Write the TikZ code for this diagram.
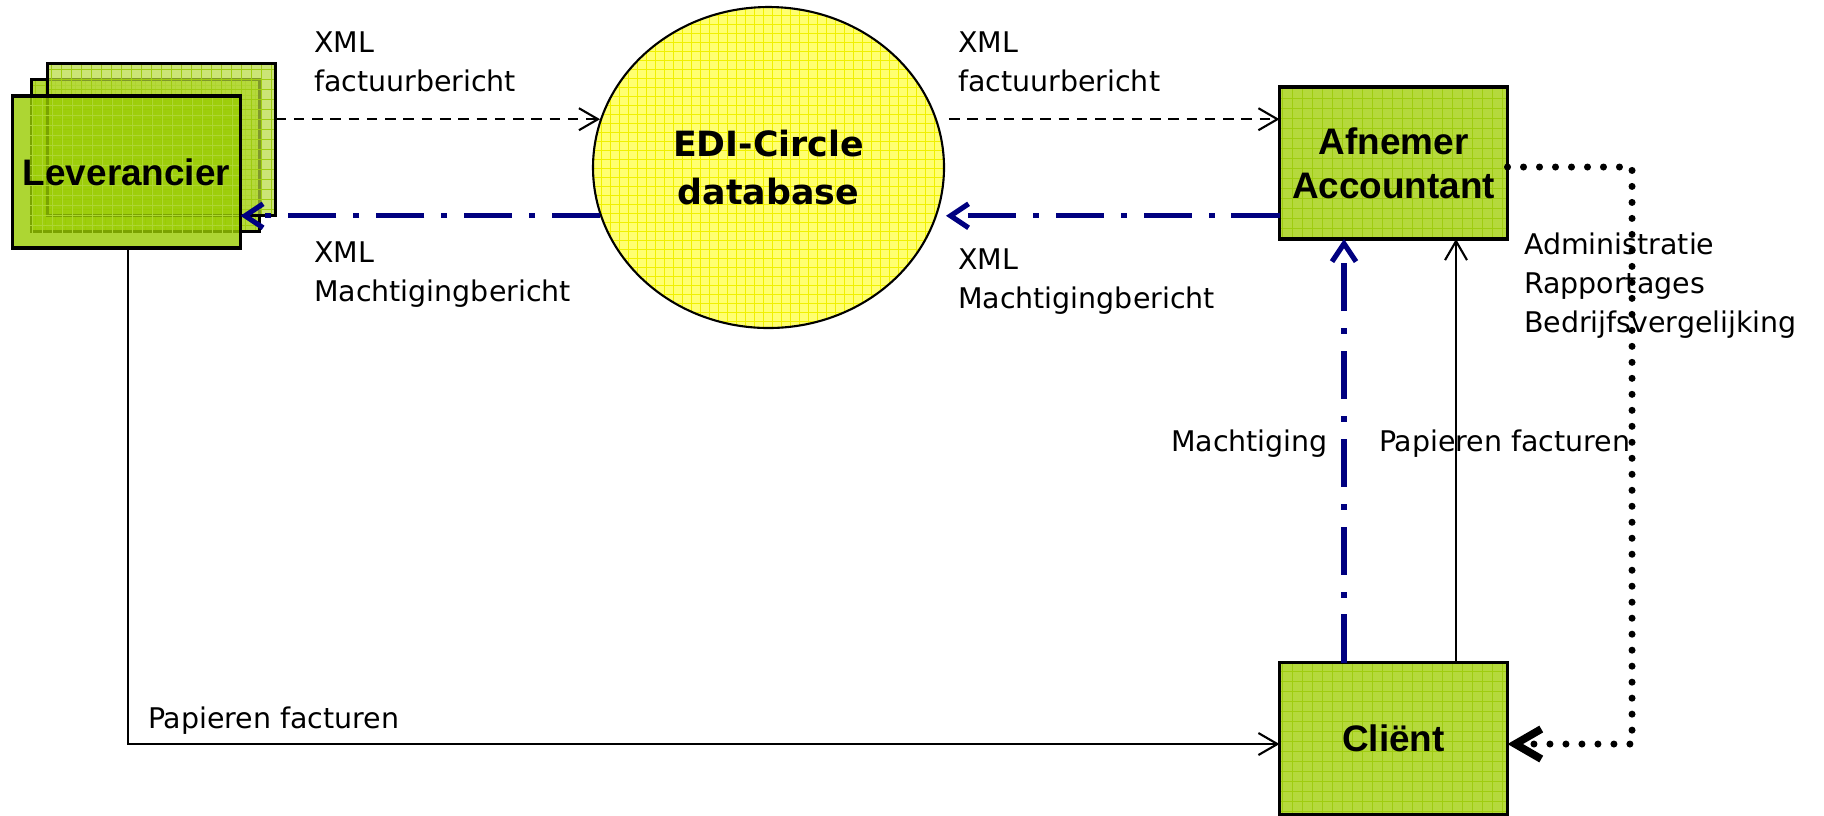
\documentclass[tikz,border=0pt]{standalone}
\usepackage{fontspec}
\setmainfont{DejaVu Sans}
\newfontfamily\arialfont{Liberation Sans}
\usepackage{tikz}
\usetikzlibrary{arrows.meta,calc,positioning,shapes.geometric}
\usepackage{xcolor}
\definecolor{boxgreen}{HTML}{B5D93C}
\definecolor{gridgreen}{HTML}{9FCC10}
\definecolor{levgreen}{HTML}{99CC00}
\definecolor{edifill}{HTML}{FFFF70}
\definecolor{edigrid}{HTML}{F0F000}
\definecolor{mandblue}{HTML}{000080}

\begin{document}
\begin{tikzpicture}[x=0.1mm,y=-0.1mm,
  party/.style={draw,line width=0.9pt,fill=boxgreen,minimum width=22.8mm,minimum height=15.2mm,
    inner sep=0pt,outer sep=0pt,align=center,
    font=\arialfont\bfseries\fontsize{10.5pt}{12.5pt}\selectfont,
    path picture={\draw[gridgreen,line width=0.3pt,step=1mm]
      (path picture bounding box.south west) grid (path picture bounding box.north east);}},
  edi/.style={ellipse,draw,line width=0.6pt,fill=edifill,minimum width=35.1mm,minimum height=32.1mm,
    inner sep=0pt,align=center,font=\bfseries\fontsize{9.9pt}{13.7pt}\selectfont,
    path picture={\draw[edigrid,line width=0.25pt,step=0.9mm]
      (path picture bounding box.south west) grid (path picture bounding box.north east);}},
  lbl/.style={inner sep=0pt,outer sep=0pt,align=left,font=\fontsize{8.1pt}{11.1pt}\selectfont},
  xmlflow/.style={line width=0.6pt,dash pattern=on 3pt off 2.2pt,-{Straight Barb[length=1.9mm,width=2.2mm]}},
  paper/.style={line width=0.6pt,-{Straight Barb[length=1.9mm,width=2.2mm]}},
  mandate/.style={mandblue,line width=1.45pt,dash pattern=on 13.7pt off 4.8pt on 1.7pt off 4.8pt,
    -{Straight Barb[length=1.8mm,width=2.4mm]}},
  report/.style={line width=2pt,line cap=round,dash pattern=on 0pt off 4.55pt,
    -{Straight Barb[length=2.6mm,width=3mm,line width=2.2pt]}}]
  \useasboundingbox (0,0) rectangle (1824,815);
  % Leverancier stack
  \node[party] (levmid) at (145.5,155.5) {};
  \node[party,fill opacity=0.7] (levback) at (161.5,139.5) {};
  \node[party,fill=levgreen,fill opacity=0.8,text opacity=1,
    path picture={\draw[levgreen!80!white,line width=0.25pt,step=1mm]
      (path picture bounding box.south west) grid (path picture bounding box.north east);}]
    (lev) at (126.5,172) {Leverancier};
  % Database and the other parties
  \node[edi] (edi) at (768.5,167.5) {EDI-Circle\\database};
  \node[party] (afn) at (1393.5,163) {Afnemer\\Accountant};
  \node[party] (client) at (1393.5,738.5) {Cliënt};
  \coordinate (turn) at (1632,167);
  \coordinate (turnlow) at (1632,744);
  % XML messages
  \draw[xmlflow] (levback.east |- edi.164) -- (edi.164);
  \draw[xmlflow] ([xshift=1.2mm]edi.16) -- (afn.west |- edi.16);
  \draw[mandate] (edi.196) -- (lev.east |- edi.196);
  \draw[mandate] (afn.west |- edi.344) -- ([xshift=0.9mm]edi.344);
  % Mandate and paper invoices
  \draw[mandate] ([xshift=-4.95mm]client.north) -- ([xshift=-4.95mm]afn.south);
  \draw[paper] ([xshift=6.25mm]client.north) -- ([xshift=6.25mm]afn.south);
  \draw[paper] ([xshift=0.15mm]lev.south) |- (client.west |- turnlow);
  % Labels
  \node[lbl,anchor=north west] (xmlin) at (314,32) {XML\\factuurbericht};
  \node[lbl,anchor=north west] (xmlback) at (314,242) {XML\\Machtigingbericht};
  \node[lbl,anchor=north west] (xmlout) at (958,32) {XML\\factuurbericht};
  \node[lbl,anchor=north west] (xmlmand) at (958,249) {XML\\Machtigingbericht};
  \node[lbl,anchor=north west] (reports) at (1524,233) {Administratie\\Rapportages\\Bedrijfsvergelijking};
  \node[lbl,anchor=base west] (machlbl) at (1171,451) {Machtiging};
  \node[lbl,anchor=base west] (paperlbl) at (1379,451) {Papieren facturen};
  \node[lbl,anchor=base west] (paperlow) at (148,728) {Papieren facturen};
  % Reports back to the client
  \draw[report] (afn.east |- turn) -- (turn) -- (turnlow) -- (client.east |- turnlow);
\end{tikzpicture}
\end{document}
